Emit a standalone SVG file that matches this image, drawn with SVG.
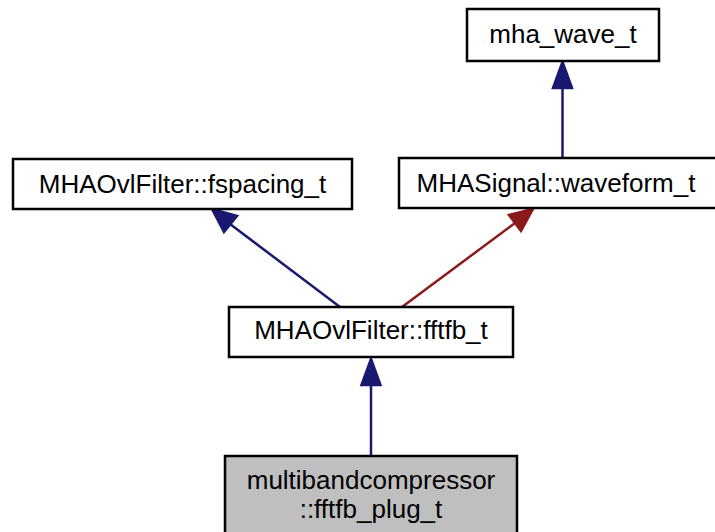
<svg xmlns="http://www.w3.org/2000/svg" width="715" height="532" viewBox="0 0 715 532">
<style>
.n{fill:#fff;stroke:#000;stroke-width:2.5}
.g{fill:#bfbfbf;stroke:#000;stroke-width:2.5}
.t{font-family:"Liberation Sans",Arial,sans-serif;font-size:26px;text-anchor:middle;fill:#000}
.b{stroke:#191970;stroke-width:2.5;fill:none}
.bh{fill:#191970;stroke:#191970;stroke-width:2.5}
.r{stroke:#8b1a1a;stroke-width:2.5;fill:none}
.rh{fill:#8b1a1a;stroke:#8b1a1a;stroke-width:2.5}
</style>
<rect width="715" height="532" fill="#fff"/>
<g id="edges">
<path class="b" d="M562.5,157 L562.5,88"/>
<polygon class="bh" points="553,88 562.5,62 572,88"/>
<path class="b" d="M340,307 L230,224"/>
<polygon class="bh" points="224,232 212,209 237,216"/>
<path class="r" d="M402,307 L515,223"/>
<polygon class="rh" points="509,215 533,209 521,231"/>
<path class="b" d="M371,455 L371,385"/>
<polygon class="bh" points="361.5,385 371,359 380.5,385"/>
</g>
<g id="mha_wave_t">
<rect class="n" x="467" y="9" width="192" height="52"/>
<text class="t" x="563" y="43">mha_wave_t</text>
</g>
<g id="fspacing_t">
<rect class="n" x="13" y="159" width="339" height="50"/>
<text class="t" x="182.5" y="193">MHAOvlFilter::fspacing_t</text>
</g>
<g id="waveform_t">
<rect class="n" x="399" y="158" width="318" height="50"/>
<text class="t" x="556" y="192">MHASignal::waveform_t</text>
</g>
<g id="fftfb_t">
<rect class="n" x="229" y="307" width="284" height="50"/>
<text class="t" x="371" y="339">MHAOvlFilter::fftfb_t</text>
</g>
<g id="fftfb_plug_t">
<rect class="g" x="225" y="456" width="292" height="80"/>
<text class="t" x="371" y="489">multibandcompressor</text>
<text class="t" x="371" y="518">::fftfb_plug_t</text>
</g>
</svg>
